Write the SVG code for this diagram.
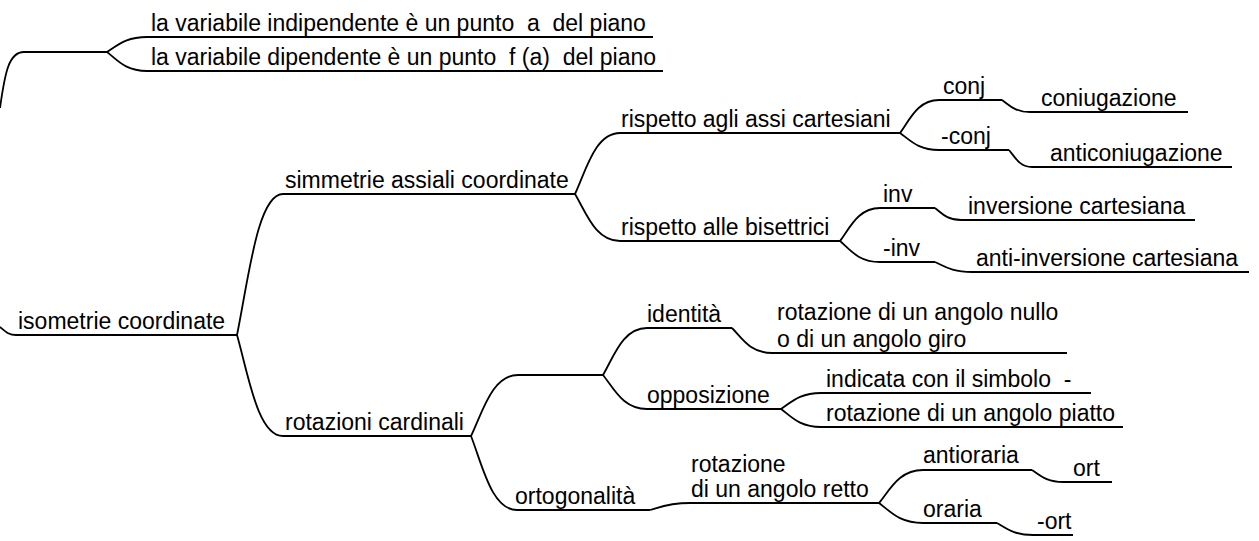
<svg xmlns="http://www.w3.org/2000/svg" width="1259" height="541" viewBox="0 0 1259 541">
<style>
text{font-family:"Liberation Sans",Arial,Helvetica,sans-serif;font-size:23px;fill:#000;white-space:pre}
.u{fill:none;stroke:#000;stroke-width:2}
.c{fill:none;stroke:#000;stroke-width:1.8}
</style>
<rect width="1259" height="541" fill="#fff"/>
<g id="connectors">
<path class="c" d="M0 108 C5 72,9 52,24 52"/>
<path class="c" d="M0 327 C6 332,9 335,16 335"/>
<path class="c" d="M107 52 C117 46,125 37,147 37"/>
<path class="c" d="M107 52 C117 59.6,125 71,147 71"/>
<path class="c" d="M237 335 C248.5 278.6,257.7 194,283 194"/>
<path class="c" d="M237 335 C248.5 375.4,257.7 436,283 436"/>
<path class="c" d="M575 194 C586.25 169.6,595.25 133,620 133"/>
<path class="c" d="M575 194 C586.25 212.8,595.25 241,620 241"/>
<path class="c" d="M900 133 C909.75 119.8,917.55 100,939 100"/>
<path class="c" d="M900 133 C909.75 139.8,917.55 150,939 150"/>
<path class="c" d="M1002 100 C1009 104.8,1014.6 112,1030 112"/>
<path class="c" d="M1009 150 C1014.75 156.8,1019.35 167,1032 167"/>
<path class="c" d="M840 241 C850 227.8,858 208,880 208"/>
<path class="c" d="M840 241 C850 249.4,858 262,880 262"/>
<path class="c" d="M935 208 C941.5 212.8,946.7 220,961 220"/>
<path class="c" d="M935 262 C944.25 266,951.65 272,972 272"/>
<path class="c" d="M471 436 C482.75 411.6,492.15 375,518 375"/>
<path class="c" d="M471 436 C482.5 465.6,491.7 510,517 510"/>
<path class="c" d="M603 375 C614 356.2,622.8 328,647 328"/>
<path class="c" d="M603 375 C614 388.6,622.8 409,647 409"/>
<path class="c" d="M732 328 C742 338,750 353,772 353"/>
<path class="c" d="M781 409 C791 402.6,799 393,821 393"/>
<path class="c" d="M781 409 C791 416.2,799 427,821 427"/>
<path class="c" d="M650 510 C660 507.2,668 503,690 503"/>
<path class="c" d="M879 503 C890 489.8,898.8 470,923 470"/>
<path class="c" d="M879 503 C890 511,898.8 523,923 523"/>
<path class="c" d="M1032 470 C1039.75 474.8,1045.95 482,1063 482"/>
<path class="c" d="M997 523 C1006 527.8,1013.2 535,1033 535"/>
</g>
<g id="n-variabile"><path class="u" d="M23 52 H107"/></g>
<g id="n-indipendente"><path class="u" d="M147 37 H653"/><text x="151" y="31">la variabile indipendente è un punto  a  del piano</text></g>
<g id="n-dipendente"><path class="u" d="M147 71 H663"/><text x="151" y="65">la variabile dipendente è un punto  f (a)  del piano</text></g>
<g id="n-isometrie"><path class="u" d="M16 335 H237"/><text x="18" y="329">isometrie coordinate</text></g>
<g id="n-simmetrie"><path class="u" d="M283 194 H575"/><text x="285" y="188">simmetrie assiali coordinate</text></g>
<g id="n-rotazioni"><path class="u" d="M283 436 H471"/><text x="285" y="430">rotazioni cardinali</text></g>
<g id="n-assi"><path class="u" d="M620 133 H900"/><text x="621" y="127">rispetto agli assi cartesiani</text></g>
<g id="n-bisettrici"><path class="u" d="M620 241 H840"/><text x="621" y="235">rispetto alle bisettrici</text></g>
<g id="n-conj"><path class="u" d="M939 100 H1002"/><text x="943" y="94">conj</text></g>
<g id="n-coniugazione"><path class="u" d="M1030 112 H1188"/><text x="1041" y="106">coniugazione</text></g>
<g id="n-mconj"><path class="u" d="M939 150 H1009"/><text x="941" y="144">-conj</text></g>
<g id="n-anticoniugazione"><path class="u" d="M1032 167 H1232"/><text x="1050" y="161">anticoniugazione</text></g>
<g id="n-inv"><path class="u" d="M880 208 H935"/><text x="883" y="202">inv</text></g>
<g id="n-inversione"><path class="u" d="M961 220 H1195"/><text x="968" y="214">inversione cartesiana</text></g>
<g id="n-minv"><path class="u" d="M880 262 H935"/><text x="883" y="256">-inv</text></g>
<g id="n-antiinversione"><path class="u" d="M972 272 H1249"/><text x="976" y="266">anti-inversione cartesiana</text></g>
<g id="n-vuoto"><path class="u" d="M518 375 H603"/></g>
<g id="n-identita"><path class="u" d="M647 328 H732"/><text x="647" y="322">identità</text></g>
<g id="n-nullo"><path class="u" d="M772 353 H1067"/><text y="320"><tspan x="777">rotazione di un angolo nullo</tspan><tspan x="777" y="347">o di un angolo giro</tspan></text></g>
<g id="n-opposizione"><path class="u" d="M647 409 H781"/><text x="647" y="403">opposizione</text></g>
<g id="n-indicata"><path class="u" d="M821 393 H1091"/><text x="826" y="387">indicata con il simbolo  -</text></g>
<g id="n-piatto"><path class="u" d="M821 427 H1123"/><text x="826" y="421">rotazione di un angolo piatto</text></g>
<g id="n-ortogonalita"><path class="u" d="M517 510 H650"/><text x="515" y="504">ortogonalità</text></g>
<g id="n-retto"><path class="u" d="M690 503 H879"/><text y="472"><tspan x="691">rotazione</tspan><tspan x="691" y="497">di un angolo retto</tspan></text></g>
<g id="n-antioraria"><path class="u" d="M923 470 H1032"/><text x="923" y="463">antioraria</text></g>
<g id="n-ort"><path class="u" d="M1063 482 H1112"/><text x="1073" y="476">ort</text></g>
<g id="n-oraria"><path class="u" d="M923 523 H997"/><text x="923" y="517">oraria</text></g>
<g id="n-mort"><path class="u" d="M1033 535 H1073"/><text x="1037" y="529">-ort</text></g>
</svg>
